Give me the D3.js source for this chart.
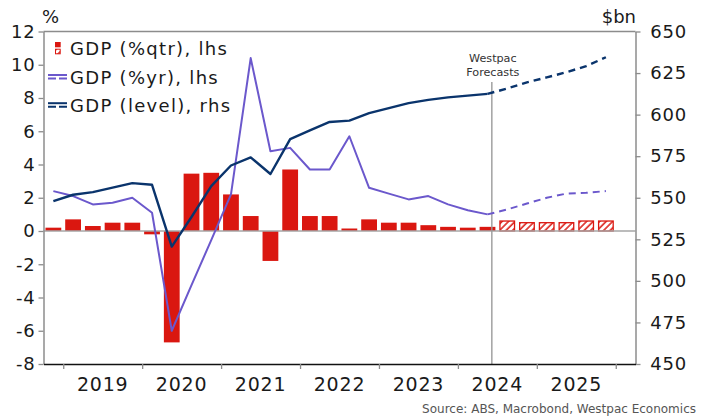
<!DOCTYPE html>
<html>
<head>
<meta charset="utf-8">
<script src="https://cdn.jsdelivr.net/npm/d3@7"></script>
<style>
  html, body { margin: 0; padding: 0; background: #ffffff; }
  svg { display: block; font-family: "DejaVu Sans", "Noto Sans", sans-serif; }
</style>
</head>
<body>
<svg id="chart" width="702" height="417"></svg>
<script>
// ---- Data -------------------------------------------------------------
const quartersActual = ["2018Q4","2019Q1","2019Q2","2019Q3","2019Q4","2020Q1","2020Q2","2020Q3",
  "2020Q4","2021Q1","2021Q2","2021Q3","2021Q4","2022Q1","2022Q2","2022Q3","2022Q4","2023Q1",
  "2023Q2","2023Q3","2023Q4","2024Q1","2024Q2"];
const quartersForecast = ["2024Q3","2024Q4","2025Q1","2025Q2","2025Q3","2025Q4"];

// GDP quarterly growth, % (lhs)
const qtrActual = [0.2, 0.7, 0.3, 0.5, 0.5, -0.2, -6.7, 3.45, 3.5, 2.2, 0.9, -1.8, 3.7, 0.9, 0.9,
  0.15, 0.7, 0.5, 0.5, 0.35, 0.25, 0.2, 0.25];
const qtrForecast = [0.6, 0.5, 0.5, 0.5, 0.6, 0.6];

// GDP annual growth, % (lhs)
const yrActual = [2.4, 2.1, 1.6, 1.7, 2.0, 1.1, -6.0, -3.25, -0.55, 2.2, 10.4, 4.8, 5.0, 3.7, 3.7,
  5.7, 2.6, 2.25, 1.9, 2.1, 1.6, 1.25, 1.0];
const yrForecast = [1.3, 1.65, 2.0, 2.25, 2.3, 2.4];

// GDP level, $bn (rhs)
const levelActual = [548.0, 551.8, 553.4, 556.1, 558.8, 557.8, 520.6, 538.4, 557.0, 569.4, 574.3,
  564.3, 585.3, 590.5, 595.6, 596.4, 600.9, 603.9, 606.9, 608.9, 610.4, 611.4, 612.5];
const levelForecast = [615.7, 619.4, 622.4, 625.5, 629.2, 634.5];

const years = [2019, 2020, 2021, 2022, 2023, 2024, 2025];
const yearBoundaries = [2019, 2020, 2021, 2022, 2023, 2024, 2025, 2026];
const leftTicks = [-8, -6, -4, -2, 0, 2, 4, 6, 8, 10, 12];
const rightTicks = [450, 475, 500, 525, 550, 575, 600, 625, 650];
const forecastMarker = 2024.43;   // where the forecast period is marked

const legendItems = ["GDP (%qtr), lhs", "GDP (%yr), lhs", "GDP (level), rhs"];
const sourceText = "Source: ABS, Macrobond, Westpac Economics";

// ---- Styles -----------------------------------------------------------
const RED = "#da1710";
const PURPLE = "#6b58cc";
const NAVY = "#0a346c";
const AXIS_GREY = "#8c8c8c";

// ---- Scales -----------------------------------------------------------
const plot = { left: 43.5, right: 635.5, top: 31.5, bottom: 364 };
const qPos = q => +q.slice(0, 4) + (+q.slice(5) - 0.5) / 4;

const x = d3.scaleLinear().domain([2018.75, 2026.25]).range([plot.left, plot.right]);
const yL = d3.scaleLinear().domain([-8, 12]).range([plot.bottom, plot.top]);
const yR = d3.scaleLinear().domain([450, 650]).range([plot.bottom, plot.top]);

const svg = d3.select("#chart");

// hatch pattern for forecast bars
const defs = svg.append("defs");
defs.append("pattern")
  .attr("id", "hatch")
  .attr("patternUnits", "userSpaceOnUse")
  .attr("width", 4.6).attr("height", 4.6)
  .attr("patternTransform", "rotate(45)")
  .call(p => {
    p.append("rect").attr("width", 4.6).attr("height", 4.6).attr("fill", "#fff");
    p.append("line").attr("x1", 1).attr("y1", 0).attr("x2", 1).attr("y2", 4.6)
      .attr("stroke", RED).attr("stroke-width", 1.5);
  });

const bandW = x(0.25) - x(0);
const barW = bandW * 0.8;

const actualBars = quartersActual.map((q, i) => ({ q, v: qtrActual[i] }));
const forecastBars = quartersForecast.map((q, i) => ({ q, v: qtrForecast[i] }));

// ---- Bars -------------------------------------------------------------
svg.append("g").selectAll("rect").data(actualBars).join("rect")
  .attr("x", d => x(qPos(d.q)) - barW / 2)
  .attr("y", d => Math.min(yL(d.v), yL(0)))
  .attr("width", barW)
  .attr("height", d => Math.abs(yL(d.v) - yL(0)))
  .attr("fill", RED);

svg.append("g").selectAll("rect").data(forecastBars).join("rect")
  .attr("x", d => x(qPos(d.q)) - barW / 2 + 0.6)
  .attr("y", d => Math.min(yL(d.v), yL(0)))
  .attr("width", barW - 1.2)
  .attr("height", d => Math.abs(yL(d.v) - yL(0)))
  .attr("fill", "url(#hatch)")
  .attr("stroke", RED).attr("stroke-width", 1.3);

// zero line
svg.append("line")
  .attr("x1", plot.left).attr("x2", plot.right)
  .attr("y1", yL(0)).attr("y2", yL(0))
  .attr("stroke", "#a6a6a6").attr("stroke-width", 1.6);

// forecast marker
svg.append("line")
  .attr("x1", x(forecastMarker)).attr("x2", x(forecastMarker))
  .attr("y1", 82).attr("y2", plot.bottom)
  .attr("stroke", "#9a9a9a").attr("stroke-width", 1.4);

svg.append("text")
  .attr("x", x(forecastMarker) + 1).attr("y", 62)
  .attr("text-anchor", "middle").attr("font-size", 11.2).attr("fill", "#333")
  .call(t => {
    t.append("tspan").attr("x", x(forecastMarker) + 1).text("Westpac");
    t.append("tspan").attr("x", x(forecastMarker) + 1).attr("dy", 13.5).text("Forecasts");
  });

// ---- Lines ------------------------------------------------------------
const lineL = d3.line().x(d => x(qPos(d.q))).y(d => yL(d.v));
const lineR = d3.line().x(d => x(qPos(d.q))).y(d => yR(d.v));

const yrA = quartersActual.map((q, i) => ({ q, v: yrActual[i] }));
const yrF = [yrA[yrA.length - 1]].concat(quartersForecast.map((q, i) => ({ q, v: yrForecast[i] })));
const lvA = quartersActual.map((q, i) => ({ q, v: levelActual[i] }));
const lvF = [lvA[lvA.length - 1]].concat(quartersForecast.map((q, i) => ({ q, v: levelForecast[i] })));

svg.append("path").datum(yrA).attr("d", lineL)
  .attr("fill", "none").attr("stroke", PURPLE).attr("stroke-width", 2).attr("stroke-linejoin", "round");
svg.append("path").datum(yrF).attr("d", lineL)
  .attr("fill", "none").attr("stroke", PURPLE).attr("stroke-width", 2).attr("stroke-dasharray", "7,5");
svg.append("path").datum(lvA).attr("d", lineR)
  .attr("fill", "none").attr("stroke", NAVY).attr("stroke-width", 2.4).attr("stroke-linejoin", "round");
svg.append("path").datum(lvF).attr("d", lineR)
  .attr("fill", "none").attr("stroke", NAVY).attr("stroke-width", 2.4).attr("stroke-dasharray", "7,5");

// ---- Axes -------------------------------------------------------------
// frame top
svg.append("line")
  .attr("x1", plot.left).attr("x2", plot.right)
  .attr("y1", plot.top).attr("y2", plot.top)
  .attr("stroke", AXIS_GREY).attr("stroke-width", 1.5);

const leftAxis = svg.append("g")
  .attr("transform", `translate(${plot.left},0)`)
  .call(d3.axisLeft(yL).tickValues(leftTicks).tickSize(5).tickPadding(3).tickSizeOuter(0));
const rightAxis = svg.append("g")
  .attr("transform", `translate(${plot.right},0)`)
  .call(d3.axisRight(yR).tickValues(rightTicks).tickSize(5).tickPadding(5).tickSizeOuter(0));

[leftAxis, rightAxis].forEach(g => {
  g.select(".domain").attr("stroke", AXIS_GREY).attr("stroke-width", 1.5);
  g.selectAll(".tick line").attr("stroke", AXIS_GREY).attr("stroke-width", 1.3);
  g.selectAll(".tick text")
    .attr("font-family", "DejaVu Sans, sans-serif")
    .attr("font-size", 18).attr("fill", "#1a1a1a")
    .attr("letter-spacing", 0.8);
});
leftAxis.selectAll(".tick text").text(d => d < 0 ? "-" + Math.abs(d) : d);
rightAxis.selectAll(".tick text").attr("text-anchor", "end").attr("x", 687 - plot.right);

// bottom axis
const bottomAxis = svg.append("g")
  .attr("transform", `translate(0,${plot.bottom})`)
  .call(d3.axisBottom(x).tickValues(yearBoundaries).tickSize(5).tickFormat("").tickSizeOuter(0));
bottomAxis.select(".domain").attr("stroke", "#111").attr("stroke-width", 1.6);
bottomAxis.selectAll(".tick line").attr("stroke", AXIS_GREY).attr("stroke-width", 1.3);

svg.append("g").selectAll("text").data(years).join("text")
  .attr("x", d => x(d + 0.5)).attr("y", 390.5)
  .attr("text-anchor", "middle")
  .attr("font-size", 19).attr("letter-spacing", 0.8).attr("fill", "#1a1a1a")
  .text(d => d);

// axis unit labels
svg.append("text").attr("x", 42).attr("y", 23).attr("font-size", 18).attr("fill", "#1a1a1a").text("%");
svg.append("text").attr("x", 636).attr("y", 23).attr("text-anchor", "end")
  .attr("font-size", 18).attr("fill", "#1a1a1a").text("$bn");

// ---- Legend -----------------------------------------------------------
const legend = svg.append("g");
const rowY = [55, 83.5, 111.7];
legend.selectAll("text").data(legendItems).join("text")
  .attr("x", 70).attr("y", (d, i) => rowY[i])
  .attr("font-size", 18).attr("letter-spacing", 1.3).attr("fill", "#1a1a1a")
  .text(d => d);

legend.append("rect").attr("x", 55).attr("y", 42).attr("width", 5.7).attr("height", 5.3).attr("fill", RED);
legend.append("rect").attr("x", 55.5).attr("y", 49.2).attr("width", 4.7).attr("height", 4.6)
  .attr("fill", "url(#hatch)").attr("stroke", RED).attr("stroke-width", 1);

[[PURPLE, rowY[1]], [NAVY, rowY[2]]].forEach(([c, by]) => {
  legend.append("line").attr("x1", 48).attr("x2", 67).attr("y1", by - 8.5).attr("y2", by - 8.5)
    .attr("stroke", c).attr("stroke-width", 2);
  legend.append("line").attr("x1", 48).attr("x2", 67).attr("y1", by - 5).attr("y2", by - 5)
    .attr("stroke", c).attr("stroke-width", 2).attr("stroke-dasharray", "8,3");
});

// ---- Source -----------------------------------------------------------
svg.append("text").attr("x", 696).attr("y", 413).attr("text-anchor", "end")
  .attr("font-size", 12).attr("fill", "#555").text(sourceText);
</script>
</body>
</html>
